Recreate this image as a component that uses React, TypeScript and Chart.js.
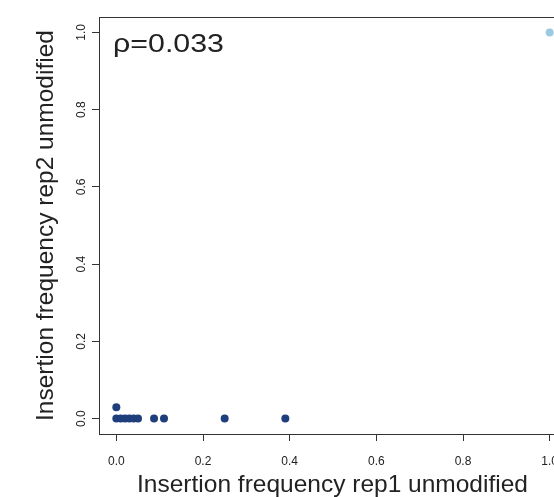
import React, { useEffect, useRef } from "react";
import { Chart, registerables } from "chart.js";

Chart.register(...registerables);

// Data
const lowX = [0, 0, 0.01, 0.02, 0.03, 0.04, 0.05, 0.087, 0.11, 0.25, 0.39];
const lowY = [0.029, 0, 0, 0, 0, 0, 0, 0, 0, 0, 0];
const highX = [1.0];
const highY = [1.0];
const tickValues = [0, 0.2, 0.4, 0.6, 0.8, 1.0];
const tickLabels = ["0.0", "0.2", "0.4", "0.6", "0.8", "1.0"];
const xTitle = "Insertion frequency rep1 unmodified";
const yTitle = "Insertion frequency rep2 unmodified";
const rhoText = "ρ=0.033";

const FONT = '"Liberation Sans", Arial, Helvetica, sans-serif';
const TEXT = "#222";
const LINE = "#333";

const textPlugin = {
  id: "rstyle",
  afterDraw(chart: any) {
    const { ctx, chartArea } = chart;
    const xs = chart.scales.x;
    const ys = chart.scales.y;
    ctx.save();
    // box
    ctx.strokeStyle = LINE;
    ctx.lineWidth = 1;
    ctx.strokeRect(
      Math.round(chartArea.left) + 0.5,
      Math.round(chartArea.top) + 0.5,
      chartArea.right - chartArea.left,
      chartArea.bottom - chartArea.top
    );
    ctx.fillStyle = TEXT;
    // x tick labels
    ctx.font = `12px ${FONT}`;
    ctx.textAlign = "center";
    ctx.textBaseline = "alphabetic";
    tickValues.forEach((v, i) => {
      ctx.fillText(tickLabels[i], xs.getPixelForValue(v), 464.5);
    });
    // y tick labels (rotated)
    tickValues.forEach((v, i) => {
      ctx.save();
      ctx.translate(85, ys.getPixelForValue(v));
      ctx.rotate(-Math.PI / 2);
      ctx.fillText(tickLabels[i], 0, 0);
      ctx.restore();
    });
    // axis titles
    ctx.font = `24.5px ${FONT}`;
    ctx.fillText(xTitle, xs.getPixelForValue(0.5) - 0.5, 492);
    ctx.save();
    ctx.translate(53, (chartArea.top + chartArea.bottom) / 2);
    ctx.rotate(-Math.PI / 2);
    ctx.fillText(yTitle, 0, 0);
    ctx.restore();
    // rho annotation (wide glyphs as in the reference)
    ctx.font = `25px ${FONT}`;
    ctx.textAlign = "left";
    ctx.save();
    ctx.translate(113, 52);
    const w = ctx.measureText(rhoText).width;
    ctx.scale(111 / w, 1);
    ctx.fillText(rhoText, 0, 0);
    ctx.restore();
    ctx.restore();
  },
};

export default function App() {
  const ref = useRef<HTMLCanvasElement | null>(null);

  useEffect(() => {
    if (!ref.current) return;
    const setTicks = (scale: any) => {
      scale.ticks = tickValues.map((v) => ({ value: v }));
    };
    const chart = new Chart(ref.current, {
      type: "scatter",
      data: {
        datasets: [
          {
            data: lowX.map((x, i) => ({ x, y: lowY[i] })),
            backgroundColor: "#1f3e7c",
            borderWidth: 0,
            pointRadius: 4,
          },
          {
            data: highX.map((x, i) => ({ x, y: highY[i] })),
            backgroundColor: "#9ecae1",
            borderWidth: 0,
            pointRadius: 4,
          },
        ],
      },
      options: {
        animation: false,
        responsive: false,
        devicePixelRatio: 1,
        layout: { padding: { left: 0, top: 17, right: 0, bottom: 0 } },
        plugins: {
          legend: { display: false },
          tooltip: { enabled: false },
        },
        scales: {
          x: {
            type: "linear",
            min: -0.04,
            max: 1.04,
            afterBuildTicks: setTicks,
            afterFit: (s: any) => {
              s.height = 63;
            },
            ticks: { display: false },
            border: { display: false },
            grid: {
              drawOnChartArea: false,
              drawTicks: true,
              tickLength: 7,
              tickColor: LINE,
              tickWidth: 1,
            },
          },
          y: {
            type: "linear",
            min: -0.04,
            max: 1.04,
            afterBuildTicks: setTicks,
            afterFit: (s: any) => {
              s.width = 99;
            },
            ticks: { display: false },
            border: { display: false },
            grid: {
              drawOnChartArea: false,
              drawTicks: true,
              tickLength: 7,
              tickColor: LINE,
              tickWidth: 1,
            },
          },
        },
      },
      plugins: [textPlugin],
    } as any);
    return () => chart.destroy();
  }, []);

  return (
    <div
      style={{
        position: "fixed",
        left: 0,
        top: 0,
        width: 554,
        height: 497,
        overflow: "hidden",
        background: "#fff",
      }}
    >
      <canvas
        ref={ref}
        width={571}
        height={497}
        style={{ display: "block", width: 571, height: 497 }}
      />
    </div>
  );
}
